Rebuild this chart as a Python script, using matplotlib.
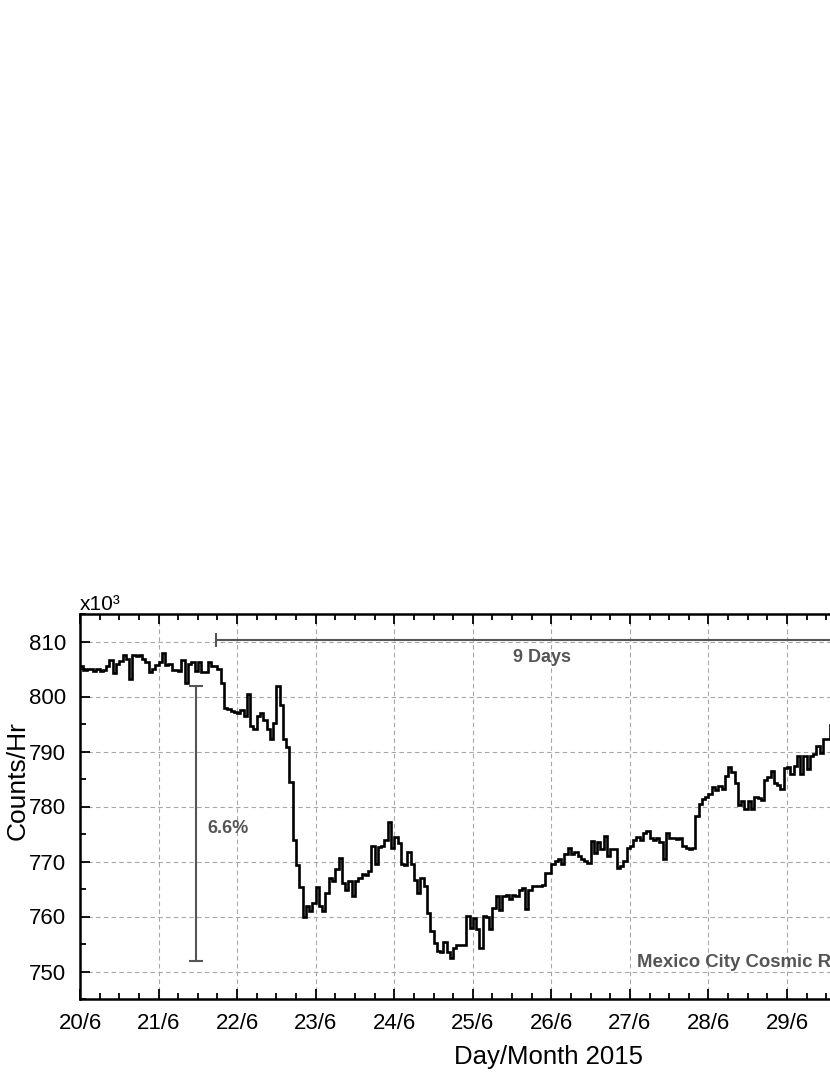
import numpy as np
import pandas as pd
import matplotlib
matplotlib.use('Agg')
import matplotlib.pyplot as plt
import matplotlib.dates as mdates
from matplotlib.ticker import FuncFormatter, MultipleLocator

# ==========================================
# DATA: hourly counts (x10^3), starting 20/6/2015 00:00
# ==========================================
start_time = '2015-06-20 00:00'
counts = [
    # 20/6
    805.5, 804.9, 805.0, 805.0, 804.7, 805.0, 804.6, 804.8, 805.6, 806.6, 804.2, 806.0,
    806.5, 807.5, 806.8, 803.2, 807.5, 807.4, 807.6, 806.8, 806.3, 804.5, 805.0, 805.8,
    # 21/6
    806.3, 808.0, 805.8, 805.9, 804.8, 804.9, 804.7, 806.6, 802.5, 806.0, 806.2, 804.6,
    806.2, 804.4, 804.4, 806.3, 805.5, 805.5, 805.0, 802.4, 798.0, 797.7, 797.3, 797.2,
    # 22/6
    797.0, 797.6, 796.4, 800.5, 794.6, 794.1, 796.4, 797.0, 795.8, 794.1, 792.2, 795.2,
    801.9, 798.4, 792.3, 790.9, 784.4, 774.0, 769.3, 765.3, 759.9, 762.0, 761.0, 762.5,
    # 23/6
    765.4, 761.9, 761.0, 764.3, 767.0, 766.5, 768.7, 770.7, 766.1, 764.9, 766.4, 763.8,
    766.4, 767.0, 767.8, 767.5, 768.3, 772.9, 769.5, 772.6, 772.9, 774.0, 777.1, 772.4,
    # 24/6
    774.5, 773.3, 769.5, 769.3, 771.7, 769.5, 766.7, 764.3, 767.0, 765.5, 760.7, 757.3,
    755.2, 753.7, 753.6, 755.3, 753.5, 752.5, 754.3, 754.8, 754.8, 754.8, 760.1, 758.0,
    # 25/6
    759.7, 757.7, 754.3, 760.1, 760.0, 757.7, 761.6, 763.7, 761.2, 763.7, 764.0, 763.1,
    764.0, 763.7, 764.9, 765.1, 761.4, 764.9, 765.6, 765.5, 765.6, 765.8, 768.0, 768.0,
    # 26/6
    769.6, 770.1, 770.4, 769.5, 771.3, 772.5, 771.3, 771.7, 771.0, 770.5, 770.1, 769.8,
    773.7, 771.6, 773.5, 772.2, 774.7, 771.0, 772.2, 772.3, 768.9, 769.2, 770.1, 772.5,
    # 27/6
    772.8, 774.0, 774.5, 774.0, 775.2, 775.5, 774.3, 773.9, 774.3, 773.5, 770.4, 775.2,
    774.3, 774.3, 774.1, 774.3, 772.8, 772.5, 772.3, 772.5, 778.2, 780.4, 781.3, 781.7,
    # 28/6
    782.3, 783.5, 783.0, 783.8, 783.2, 785.6, 787.2, 786.2, 784.2, 780.3, 781.0, 779.5,
    781.0, 779.5, 781.7, 781.5, 781.2, 784.8, 785.4, 786.4, 784.2, 784.0, 783.2, 787.0,
    # 29/6
    787.2, 786.0, 787.4, 789.1, 785.9, 789.1, 786.8, 789.2, 789.5, 791.0, 789.7, 792.2,
    792.3, 794.8,
]

# axis range and annotation values
x_start, x_end = '2015-06-20', '2015-07-02'
y_min, y_max = 745, 815
drop_label = '6.6%'
drop_time = '2015-06-21 11:27'
drop_top, drop_bottom = 802.0, 752.0
recovery_start = '2015-06-21 17:32'
recovery_days = 9
recovery_level = 810.2
station = 'Mexico City Cosmic Ray Observatory'

FONT = ['Liberation Sans', 'DejaVu Sans']
ANNOT = '#555555'

# ==========================================
# FIGURE
# ==========================================
W, H = 830, 1075
fig = plt.figure(figsize=(W / 100, H / 100), dpi=100)
# the axes runs past the right edge of the picture on purpose (cropped original)
ax = fig.add_axes([80 / W, 76 / H, 942.7 / W, 385 / H])

edges = mdates.date2num(pd.date_range(start_time, periods=len(counts) + 1, freq='h'))
ax.stairs(counts, edges, baseline=None, color='black', lw=1.9, zorder=3)

ax.set_xlim(mdates.date2num(pd.Timestamp(x_start)), mdates.date2num(pd.Timestamp(x_end)))
ax.set_ylim(y_min, y_max)

ax.xaxis.set_major_locator(mdates.DayLocator())
ax.xaxis.set_minor_locator(mdates.HourLocator(byhour=[6, 12, 18]))
ax.xaxis.set_major_formatter(FuncFormatter(
    lambda v, p: f"{mdates.num2date(v).day}/{mdates.num2date(v).month}"))
ax.yaxis.set_major_locator(MultipleLocator(10))
ax.yaxis.set_minor_locator(MultipleLocator(5))

ax.tick_params(which='both', direction='in', top=True, right=True, width=1.3)
ax.tick_params(which='major', length=7)
ax.tick_params(which='minor', length=4)
ax.tick_params(axis='x', pad=10)
ax.tick_params(axis='y', pad=10)
for lab in ax.get_xticklabels() + ax.get_yticklabels():
    lab.set_family(FONT)
    lab.set_fontsize(16)
for sp in ax.spines.values():
    sp.set_linewidth(1.8)

ax.grid(which='major', color='#a6a6a6', ls=(0, (4, 3)), lw=0.8, zorder=0)

# 6.6 % decrease bar
ax.errorbar(mdates.date2num(pd.Timestamp(drop_time)), (drop_top + drop_bottom) / 2,
            yerr=(drop_top - drop_bottom) / 2, color=ANNOT, lw=1.5,
            capsize=5, capthick=1.5, zorder=4)
ax.text(mdates.date2num(pd.Timestamp('2015-06-21 14:50')), 776.0, drop_label,
        family=FONT, fontweight='bold', fontsize=13, color=ANNOT, va='center')

# 9 days recovery bar
rec0 = mdates.date2num(pd.Timestamp(recovery_start))
ax.errorbar(rec0 + recovery_days / 2, recovery_level, xerr=recovery_days / 2,
            color=ANNOT, lw=1.5, capsize=5, capthick=1.5, zorder=4)
ax.text(mdates.date2num(pd.Timestamp('2015-06-25 21:09')), 807.1, f'{recovery_days} Days',
        family=FONT, fontweight='bold', fontsize=13, color=ANNOT, ha='center', va='center')

ax.text(mdates.date2num(pd.Timestamp('2015-06-27 02:10')), 751.6, station,
        family=FONT, fontweight='bold', fontsize=13.4, color=ANNOT, va='center')

# labels
fig.text(80 / W, 1 - 610 / H, 'x10³', family=FONT, fontsize=15, va='baseline')
fig.text(18 / W, 1 - 781 / H, 'Counts/Hr', family=FONT, fontsize=19,
         rotation=90, ha='center', va='center')
fig.text(548 / W, 1 - 1057 / H, 'Day/Month 2015', family=FONT, fontsize=18.5,
         ha='center', va='center')

fig.savefig('out.png', dpi=100)
